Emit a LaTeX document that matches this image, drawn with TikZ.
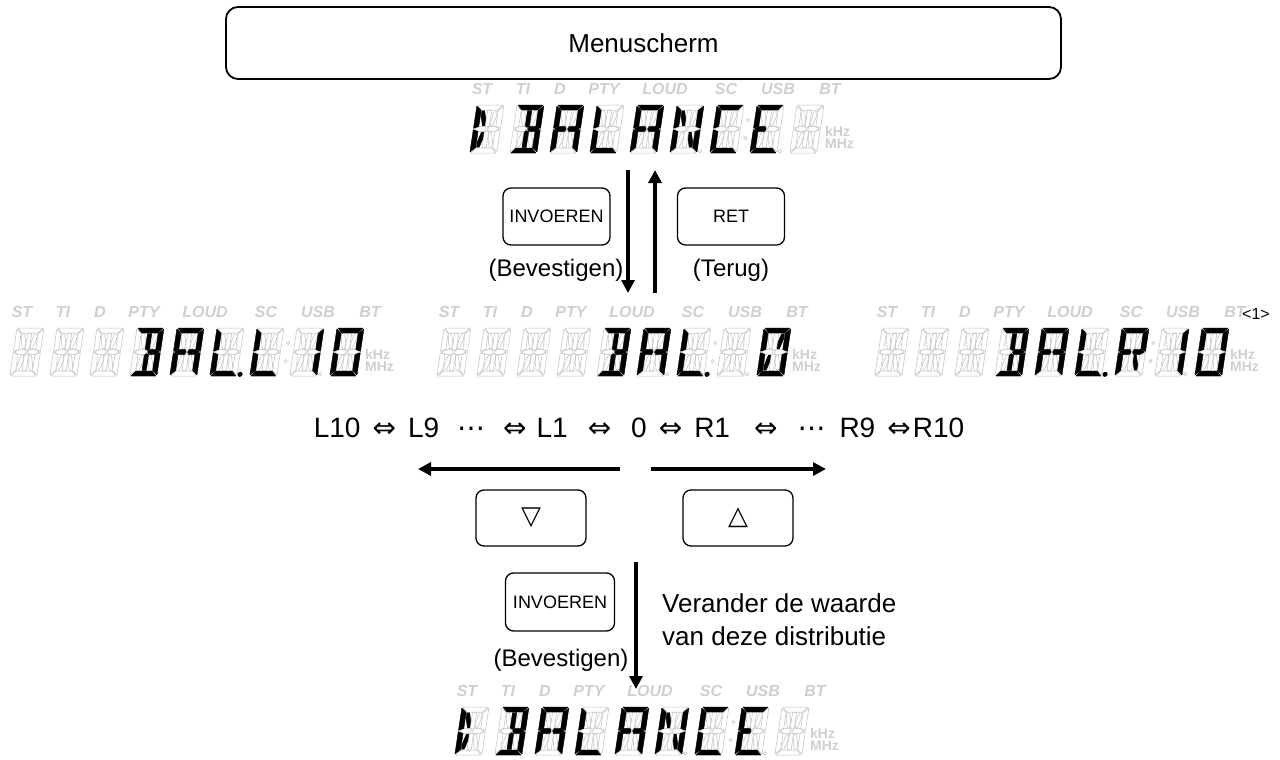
\documentclass[tikz,border=0pt]{standalone}
\usepackage{fontspec}
\setmainfont{Liberation Sans}
\newfontfamily\symf{DejaVu Sans}
\usetikzlibrary{arrows.meta}
\tikzset{
 seg a/.style={insert path={(1,0)--(26,0)--(21.5,5)--(5.5,5)--cycle}},
 seg d/.style={insert path={(1,48)--(26,48)--(21.5,43)--(5.5,43)--cycle}},
 seg f/.style={insert path={(0,1)--(5,5.5)--(5,21.5)--(0,23.3)--cycle}},
 seg e/.style={insert path={(0,24.7)--(5,26.5)--(5,42.5)--(0,47)--cycle}},
 seg b/.style={insert path={(27,1)--(22,5.5)--(22,21.5)--(27,23.3)--cycle}},
 seg c/.style={insert path={(27,24.7)--(22,26.5)--(22,42.5)--(27,47)--cycle}},
 seg g1/.style={insert path={(1,24)--(5,21.6)--(11.5,21.6)--(12.8,24)--(11.5,26.4)--(5,26.4)--cycle}},
 seg g2/.style={insert path={(14.2,24)--(15.5,21.6)--(22,21.6)--(26,24)--(22,26.4)--(15.5,26.4)--cycle}},
 seg i/.style={insert path={(11.4,5.5)--(15.6,5.5)--(15.6,20.8)--(13.5,22.5)--(11.4,20.8)--cycle}},
 seg l/.style={insert path={(11.4,27.2)--(13.5,25.5)--(15.6,27.2)--(15.6,42.5)--(11.4,42.5)--cycle}},
 seg h/.style={insert path={(5.8,5.8)--(8.5,5.8)--(10.8,14)--(10.8,20.8)--(8.5,20.8)--(5.8,11)--cycle}},
 seg j/.style={insert path={(21.2,5.8)--(18.5,5.8)--(16.2,14)--(16.2,20.8)--(18.5,20.8)--(21.2,11)--cycle}},
 seg k/.style={insert path={(10.8,27.2)--(8.5,27.2)--(5.8,37)--(5.8,42.2)--(8.5,42.2)--(10.8,34)--cycle}},
 seg m/.style={insert path={(16.2,27.2)--(18.5,27.2)--(21.2,37)--(21.2,42.2)--(18.5,42.2)--(16.2,34)--cycle}},
 seg none/.style={},
}
\newcommand\chX{none}
\newcommand\chP{e,f,h,k}
\newcommand\chB{a,b,c,d,g2,i,l}
\newcommand\chA{a,b,c,e,f,g1,g2}
\newcommand\chL{d,e,f}
\newcommand\chN{b,c,e,f,h,m}
\newcommand\chC{a,d,e,f}
\newcommand\chE{a,d,e,f,g1}
\newcommand\chI{b,c}
\newcommand\chO{a,b,c,d,e,f}
\newcommand\chQ{a,b,c,d,e,f,j,k}
\newcommand\chR{a,b,e,f,g1,g2,m}
\newcommand\lcdcell[3]{%
  \edef\onlist{#3}%
  \begin{scope}[shift={(#1+7,#2)},xslant=0.15]
    \foreach \s in {a,b,c,d,e,f,g1,g2,h,i,j,k,l,m}{\edef\tmp{\noexpand\path[segoff,seg \s];}\tmp}
    \foreach \s in \onlist {\edef\tmp{\noexpand\path[segon,seg \s];}\tmp}
  \end{scope}}
\newcommand\lcd[4]{%
  \foreach \dx/\lab in {12/ST,53/TI,90/D,134/PTY,195/LOUD,256/SC,308/USB,360/BT}
    {\node[ind] (#1-\lab) at (#2+\dx,#3-16) {\lab};}
  \node[unit,anchor=west] (#1-kHz) at (#2+355,#3+26) {kHz};
  \node[unit,anchor=west] (#1-MHz) at (#2+355,#3+39) {MHz};
  \foreach \k/\on in {#4}{\lcdcell{#2+40*\k}{#3}{\on}}
  \begin{scope}[shift={(#2+7,#3)},xslant=0.15]
    \draw[segoff] (230,46.3) circle (1.8) (310,46.3) circle (1.8)
      (273.5,15) circle (1.6) (273.5,33) circle (1.6);
  \end{scope}}
\newcommand\lcddot[3]{\begin{scope}[shift={(#1+7,#2)},xslant=0.15]\fill[segon] (#3,46.3) circle (2.3);\end{scope}}
\newcommand\myiff{{\symf ⇔}}
\newcommand\mydots{{\symf ⋯}}
\newcommand\gap[1]{\hspace{#1pt}}
\begin{document}
\begin{tikzpicture}[x=1pt,y=-1pt,
  segoff/.style={draw=gray!50,line width=0.5pt,line join=round},
  segon/.style={fill=black,draw=black,line width=0.4pt,line join=round},
  ind/.style={font=\fontsize{16}{16}\selectfont\bfseries\itshape,text=gray!38,inner sep=0pt},
  unit/.style={font=\fontsize{14}{14}\selectfont\bfseries,text=gray!38,inner sep=0pt},
  btn/.style={draw,rounded corners=8pt,line width=1.3pt,minimum width=107pt,minimum height=57pt,inner sep=0pt,font=\fontsize{18}{20}\selectfont},
  lbl/.style={inner sep=0pt,font=\fontsize{24}{28}\selectfont},
  arr/.style={line width=4pt,-{Triangle[length=13pt,width=13pt]}}]
\useasboundingbox (0,0) rectangle (1280,760);

\node[draw,rounded corners=12pt,line width=1.8pt,minimum width=835pt,minimum height=72pt,font=\fontsize{26}{30}\selectfont] (menu) at (643.5,43) {Menuscherm};

\lcd{top}{470}{105}{0/\chP,1/\chB,2/\chA,3/\chL,4/\chA,5/\chN,6/\chC,7/\chE,8/\chX}

\node[btn] (inv1) at (556.5,216.5) {INVOEREN};
\node[lbl] (bev1) at (556,270) {(Bevestigen)};
\node[btn] (ret) at (731,216.5) {RET};
\node[lbl] (ter) at (731,270) {(Terug)};
\coordinate (a1s) at (628,170); \coordinate (a1e) at (628,293);
\coordinate (a2s) at (655,293); \coordinate (a2e) at (655,170);
\draw[arr] (a1s) -- (a1e);
\draw[arr] (a2s) -- (a2e);

\lcd{left}{10}{328}{0/\chX,1/\chX,2/\chX,3/\chB,4/\chA,5/\chL,6/\chL,7/\chI,8/\chO}
\lcddot{10}{328}{230}
\lcd{mid}{437}{328}{0/\chX,1/\chX,2/\chX,3/\chX,4/\chB,5/\chA,6/\chL,7/\chX,8/\chQ}
\lcddot{437}{328}{270}
\lcd{right}{875}{328}{0/\chX,1/\chX,2/\chX,3/\chB,4/\chA,5/\chL,6/\chR,7/\chI,8/\chO}
\lcddot{875}{328}{230}
\node[inner sep=0pt,font=\fontsize{16}{16}\selectfont] (note) at (1256,314) {<1>};

\node[lbl,font=\fontsize{28}{32}\selectfont] (seq) at (639,428)
  {L10\gap{12}\myiff\gap{12}L9\gap{18}\mydots\gap{18}\myiff\gap{10}L1\gap{20}\myiff\gap{20}0\gap{12}\myiff\gap{12}R1\gap{24}\myiff\gap{20}\mydots\gap{14}R9\gap{12}\myiff\gap{2}R10};

\coordinate (l1) at (620,469); \coordinate (l2) at (418,469);
\coordinate (r1) at (651,469); \coordinate (r2) at (826,469);
\draw[arr] (l1) -- (l2);
\draw[arr] (r1) -- (r2);
\node[btn,minimum width=110pt,minimum height=56pt,font=\fontsize{26}{26}\selectfont\symf] (dn) at (531,518) {▽};
\node[btn,minimum width=110pt,minimum height=56pt,font=\fontsize{26}{26}\selectfont\symf] (up) at (738,518) {△};

\node[btn,minimum width=109pt,minimum height=58pt] (inv2) at (560,602) {INVOEREN};
\node[lbl] (bev2) at (561,660) {(Bevestigen)};
\coordinate (b1) at (636,562); \coordinate (b2) at (636,689);
\draw[arr] (b1) -- (b2);
\node[inner sep=0pt,anchor=west,align=left,font=\fontsize{26}{33}\selectfont] (ver) at (662,620) {Verander de waarde\\van deze distributie};

\lcd{bot}{455}{707}{0/\chP,1/\chB,2/\chA,3/\chL,4/\chA,5/\chN,6/\chC,7/\chE,8/\chX}
\end{tikzpicture}
\end{document}
